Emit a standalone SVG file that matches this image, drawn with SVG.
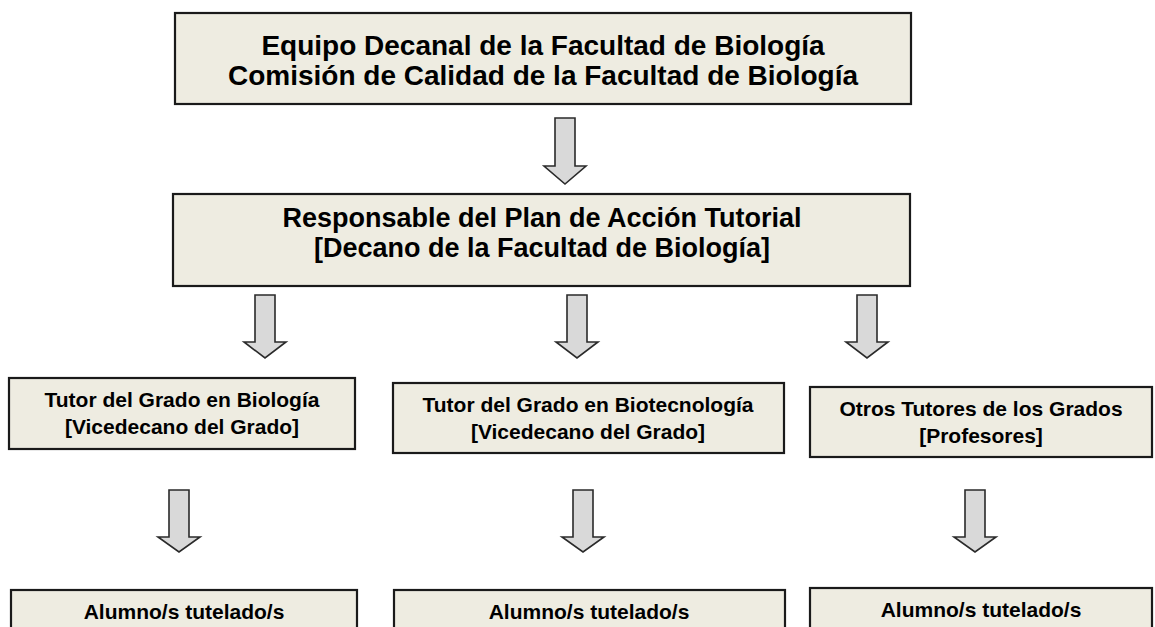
<svg xmlns="http://www.w3.org/2000/svg" width="1155" height="627" viewBox="0 0 1155 627">
<style>
.box{fill:#eeece1;stroke:#1a1a1a;stroke-width:2.2}
.arr{fill:#d9d9d9;stroke:#2a2a2a;stroke-width:1.6;stroke-linejoin:miter}
.t{font-family:"Liberation Sans",Arial,sans-serif;font-weight:bold;fill:#000;text-anchor:middle}
.big{font-size:28px}
.mid{font-size:27px}
.sm{font-size:21px}
</style>
<rect width="1155" height="627" fill="#fff"/>
<g id="connectors">
<path class="arr" d="M555 118 H575 V166 H586 L565 184 L544 166 H555 Z"/>
<path class="arr" d="M255 295 H275 V342 H286 L265 358 L244 342 H255 Z"/>
<path class="arr" d="M567 295 H587 V342 H598 L577 358 L556 342 H567 Z"/>
<path class="arr" d="M857 295 H877 V342 H888 L867 358 L846 342 H857 Z"/>
<path class="arr" d="M169 490 H189 V537 H200 L179 552 L158 537 H169 Z"/>
<path class="arr" d="M573 490 H593 V537 H604 L583 552 L562 537 H573 Z"/>
<path class="arr" d="M965 490 H985 V537 H996 L975 552 L954 537 H965 Z"/>
</g>
<g id="n-equipo">
<rect class="box" x="175" y="13" width="736" height="91"/>
<text class="t big" x="543" y="55">Equipo Decanal de la Facultad de Biología</text>
<text class="t big" x="543" y="85">Comisión de Calidad de la Facultad de Biología</text>
</g>
<g id="n-responsable">
<rect class="box" x="173" y="194" width="737" height="92"/>
<text class="t mid" x="542" y="227">Responsable del Plan de Acción Tutorial</text>
<text class="t mid" x="542" y="257">[Decano de la Facultad de Biología]</text>
</g>
<g id="n-tutor-bio">
<rect class="box" x="9" y="378" width="346" height="71"/>
<text class="t sm" x="182" y="407">Tutor del Grado en Biología</text>
<text class="t sm" x="182" y="434">[Vicedecano del Grado]</text>
</g>
<g id="n-tutor-biotec">
<rect class="box" x="393" y="383" width="391" height="70"/>
<text class="t sm" x="588" y="412">Tutor del Grado en Biotecnología</text>
<text class="t sm" x="588" y="439">[Vicedecano del Grado]</text>
</g>
<g id="n-otros">
<rect class="box" x="810" y="387" width="342" height="70"/>
<text class="t sm" x="981" y="416">Otros Tutores de los Grados</text>
<text class="t sm" x="981" y="443">[Profesores]</text>
</g>
<g id="n-alumnos-1">
<rect class="box" x="11" y="590" width="346" height="50"/>
<text class="t sm" x="184" y="619">Alumno/s tutelado/s</text>
</g>
<g id="n-alumnos-2">
<rect class="box" x="394" y="590" width="391" height="50"/>
<text class="t sm" x="589" y="619">Alumno/s tutelado/s</text>
</g>
<g id="n-alumnos-3">
<rect class="box" x="810" y="588" width="342" height="50"/>
<text class="t sm" x="981" y="617">Alumno/s tutelado/s</text>
</g>
</svg>
